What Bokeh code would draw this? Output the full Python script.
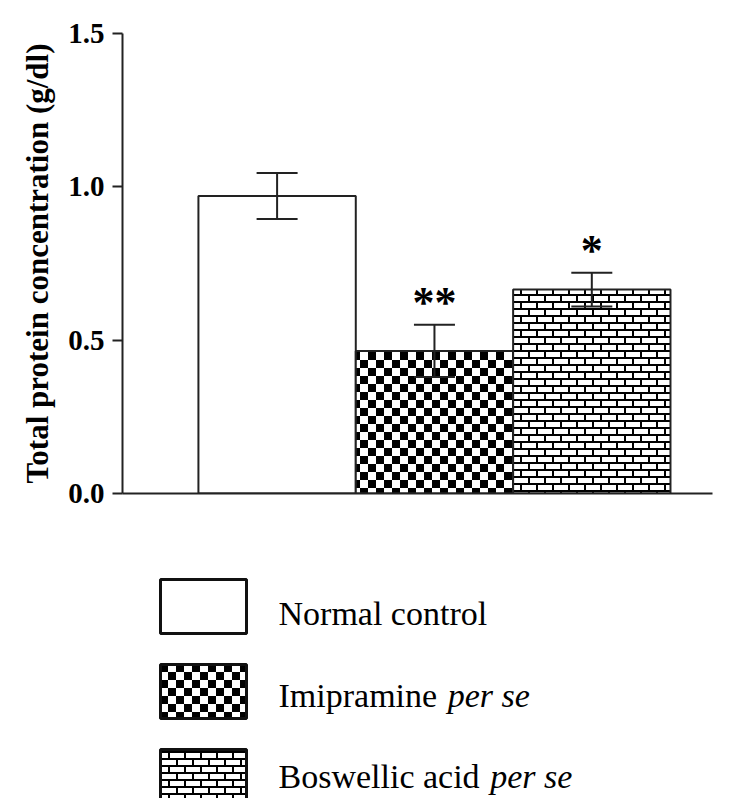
import struct, zlib, base64
from bokeh.plotting import figure
from bokeh.models import (ColumnDataSource, Whisker, TeeHead, ImageURLTexture, Range1d,
                          FixedTicker, NumeralTickFormatter)
from bokeh.layouts import column
from bokeh.core.properties import value
from bokeh.embed import file_html
from bokeh.resources import INLINE

# ---------------- data ----------------
groups = ["Normal control", "Imipramine", "Boswellic acid"]
suffixes = ["", "per se", "per se"]
means = [0.97, 0.465, 0.665]
sems = [0.075, 0.085, 0.055]
stars = ["", "**", "*"]
patterns = ["blank", "checker", "brick"]
y_ticks = [0.0, 0.5, 1.0, 1.5]
y_title = "Total protein concentration (g/dl)"

SERIF = "Liberation Serif"

# ---------------- textures ----------------
def png_data_uri(rows):
    h = len(rows); w = len(rows[0])
    raw = b"".join(b"\x00" + bytes(0 if c == "1" else 255 for c in r) for r in rows)
    def chunk(t, d):
        c = struct.pack(">I", len(d)) + t + d
        return c + struct.pack(">I", zlib.crc32(t + d) & 0xffffffff)
    png = (b"\x89PNG\r\n\x1a\n"
           + chunk(b"IHDR", struct.pack(">IIBBBBB", w, h, 8, 0, 0, 0, 0))
           + chunk(b"IDAT", zlib.compress(raw))
           + chunk(b"IEND", b""))
    return "data:image/png;base64," + base64.b64encode(png).decode()

checker_rows = ["1" * 8 + "0" * 8] * 8 + ["0" * 8 + "1" * 8] * 8
brick_rows = (["1" * 16] * 2
              + ["11" + "0" * 14] * 5
              + ["1" * 16] * 2
              + ["0" * 8 + "11" + "0" * 6] * 5)

textures = {
    "checker": ImageURLTexture(url=png_data_uri(checker_rows)),
    "brick": ImageURLTexture(url=png_data_uri(brick_rows)),
}

# ---------------- main plot ----------------
xs = [i + 1 for i in range(len(groups))]
src = ColumnDataSource(dict(
    x=xs, top=means, pattern=patterns, stars=stars,
    upper=[m + s for m, s in zip(means, sems)],
    lower=[m - s for m, s in zip(means, sems)],
))

p = figure(width=736, height=520, x_range=Range1d(0.0175, 3.767), y_range=Range1d(0, 1.5),
           output_backend="svg", toolbar_location=None,
           min_border_left=122, min_border_right=24, min_border_top=33, min_border_bottom=27)
p.outline_line_color = None
p.grid.visible = False
p.background_fill_color = "white"
p.border_fill_color = "white"

p.vbar(x="x", top="top", width=1.0, source=src, fill_color="white",
       line_color="#222222", line_width=2,
       hatch_pattern="pattern", hatch_extra=textures)

wh = Whisker(base="x", upper="upper", lower="lower", source=src,
             line_color="#222222", line_width=2, level="overlay",
             upper_head=TeeHead(size=41, line_width=2, line_color="#222222"),
             lower_head=TeeHead(size=41, line_width=2, line_color="#222222"))
p.add_layout(wh)

p.text(x="x", y="upper", text="stars", source=src, text_align="center",
       text_baseline="bottom", y_offset=2, text_font=value(SERIF), text_font_style="bold",
       text_font_size="44px", text_color="black")

p.yaxis.ticker = FixedTicker(ticks=y_ticks)
p.yaxis.formatter = NumeralTickFormatter(format="0.0")
p.yaxis.minor_tick_line_color = None
p.yaxis.major_tick_out = 10
p.yaxis.major_tick_in = 0
p.yaxis.major_tick_line_width = 2
p.yaxis.axis_line_width = 2
p.yaxis.axis_line_color = "#222222"
p.yaxis.major_tick_line_color = "#222222"
p.yaxis.major_label_text_font = SERIF
p.yaxis.major_label_text_font_style = "bold"
p.yaxis.major_label_text_font_size = "29px"
p.yaxis.major_label_text_color = "black"
p.yaxis.major_label_standoff = 8
p.yaxis.axis_label = y_title
p.yaxis.axis_label_text_font = SERIF
p.yaxis.axis_label_text_font_style = "bold"
p.yaxis.axis_label_text_font_size = "31px"
p.yaxis.axis_label_text_color = "black"
p.yaxis.axis_label_standoff = 10

p.xaxis.ticker = FixedTicker(ticks=[])
p.xaxis.major_label_text_font_size = "0px"
p.xaxis.major_tick_line_color = None
p.xaxis.minor_tick_line_color = None
p.xaxis.axis_line_width = 2
p.xaxis.axis_line_color = "#222222"

# ---------------- legend panel (frame aligned with main plot; units = page pixels) ----------------
leg = figure(width=736, height=278, x_range=Range1d(122, 712), y_range=Range1d(798, 520),
             output_backend="svg", toolbar_location=None,
             min_border_left=122, min_border_right=24, min_border_top=0, min_border_bottom=0)
leg.axis.visible = False
leg.grid.visible = False
leg.outline_line_color = None

box_x, box_w, box_h = 203, 86, 54
y0, step, text_step = 606, 85, 81.5
fs = 34
widths = {"I": .333, "m": .778, "i": .278, "p": .5, "r": .333, "a": .444, "n": .5, "e": .444,
          "B": .667, "o": .5, "s": .389, "w": .722, "l": .278, "c": .444, "d": .5, " ": .25,
          "N": .722, "t": .278}
text_x = 278
ly = [y0 + i * step for i in range(len(groups))]
ty = [y0 + 7 + i * text_step for i in range(len(groups))]
sfx_x = [text_x + (sum(widths.get(ch, .5) for ch in g) + .25) * fs + 2 for g in groups]

lsrc = ColumnDataSource(dict(x=[box_x] * len(groups), y=ly, pattern=patterns,
                             label=groups, suffix=suffixes,
                             ty=ty, tx=[text_x] * len(groups), sx=sfx_x))
leg.rect(x="x", y="y", width=box_w, height=box_h, source=lsrc, fill_color="white",
         line_color="#111111", line_width=3, hatch_pattern="pattern", hatch_extra=textures)
leg.text(x="tx", y="ty", text="label", source=lsrc, text_baseline="alphabetic",
         text_font=value(SERIF), text_font_size=f"{fs}px", text_color="black")
leg.text(x="sx", y="ty", text="suffix", source=lsrc, text_baseline="alphabetic",
         text_font=value(SERIF), text_font_style="italic", text_font_size=f"{fs}px",
         text_color="black")

layout = column(p, leg, spacing=0)
open("out.html", "w").write(file_html(layout, INLINE))
